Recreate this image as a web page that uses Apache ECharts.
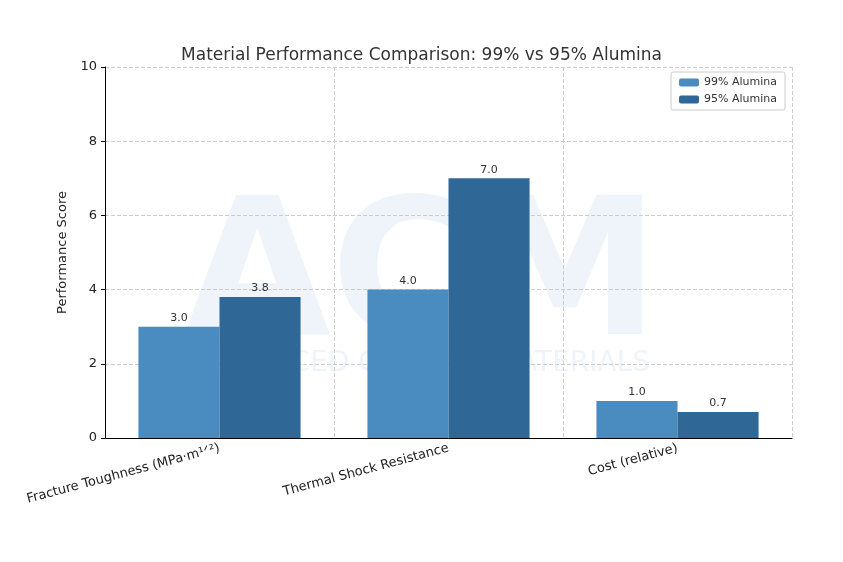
<!DOCTYPE html><html><head><meta charset="utf-8"><script src="https://cdn.jsdelivr.net/npm/echarts@6/dist/echarts.min.js"></script>
<style>body{margin:0}#c{width:843px;height:562px}</style></head><body><div id="c"></div><script>
const categories=["Fracture Toughness (MPa·m¹ᐟ²)","Thermal Shock Resistance","Cost (relative)"];
const alumina99=[3.0,4.0,1.0];
const alumina95=[3.8,7.0,0.7];
const yTicks=[0,2,4,6,8,10];
const ch=echarts.init(document.getElementById('c'));
const lbl={show:true,position:'top',formatter:p=>p.value.toFixed(1),color:'#333',fontSize:11,fontFamily:'DejaVu Sans',distance:3};
ch.setOption({
 animation:false,
 title:{text:'Material Performance Comparison: 99% vs 95% Alumina',left:'center',top:42,textStyle:{fontFamily:'DejaVu Sans',fontWeight:'normal',fontSize:17,color:'#333'}},
 legend:{right:58,top:72,orient:'vertical',itemWidth:20,itemHeight:8,itemGap:6,padding:[5,8],borderColor:'#ccc',borderWidth:1,borderRadius:2,textStyle:{fontFamily:'DejaVu Sans',fontSize:11,color:'#333'},data:['99% Alumina','95% Alumina']},
 graphic:[{type:'text',left:'center',top:190,style:{text:'ACM',font:'bold 190px DejaVu Sans',fill:'rgba(70,130,190,0.09)'},z:-1},
  {type:'text',left:'center',top:350,style:{text:'ADVANCED CERAMIC MATERIALS',font:'28px DejaVu Sans',fill:'rgba(70,130,190,0.09)'},z:-1}],
 grid:{left:105,right:51,top:67,bottom:124,containLabel:false},
 xAxis:{type:'category',data:categories,axisLine:{lineStyle:{color:'#000'}},axisTick:{show:false},
  splitLine:{show:true,interval:0,lineStyle:{color:'#ccc',type:'dashed'}},
  axisLabel:{rotate:15,interval:0,fontFamily:'DejaVu Sans',fontSize:13,color:'#222',margin:10}},
 yAxis:{type:'value',min:0,max:10,interval:2,name:'Performance Score',nameLocation:'middle',nameGap:28,nameTextStyle:{fontFamily:'DejaVu Sans',fontSize:13,color:'#222'},
  axisLine:{show:true,lineStyle:{color:'#000'}},axisTick:{show:true,length:4,lineStyle:{color:'#000'}},
  axisLabel:{fontFamily:'DejaVu Sans',fontSize:13,color:'#222',formatter:v=>yTicks.includes(v)?String(v):''},
  splitLine:{lineStyle:{color:'#ccc',type:'dashed'}}},
 series:[
  {name:'99% Alumina',type:'bar',data:alumina99,barWidth:'35.4%',barGap:'0%',itemStyle:{color:'#4a8bc0'},label:lbl},
  {name:'95% Alumina',type:'bar',data:alumina95,barWidth:'35.4%',itemStyle:{color:'#2f6796'},label:lbl}]
});
</script></body></html>
